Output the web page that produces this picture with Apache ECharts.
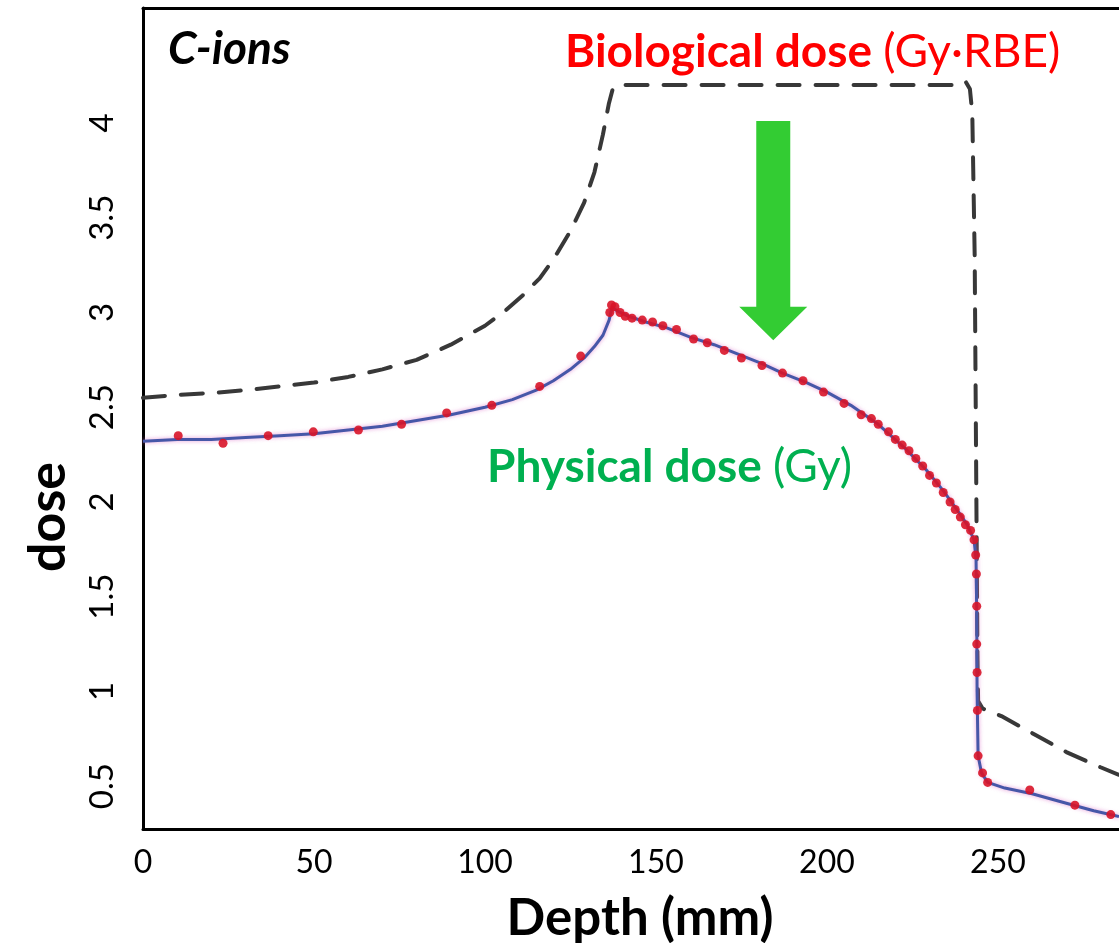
<!DOCTYPE html>
<html>
<head>
<meta charset="utf-8">
<script src="https://cdn.jsdelivr.net/npm/echarts@6/dist/echarts.min.js"></script>
<style>
  html, body { margin: 0; padding: 0; background: #fff; }
  #chart { width: 1119px; height: 943px; }
</style>
</head>
<body>
<div id="chart"></div>
<script>
// Depth–dose profile of a carbon-ion spread-out Bragg peak.

const xTicks = [0, 50, 100, 150, 200, 250];
const yTicks = [0.5, 1, 1.5, 2, 2.5, 3, 3.5, 4];

// Physical dose (Gy), calculated profile: [depth mm, dose]
const physicalCurve = [
  [0, 2.32], [10, 2.33], [20, 2.33], [30, 2.34], [40, 2.35], [50, 2.36],
  [60, 2.38], [70, 2.40], [80, 2.43], [90, 2.46], [100, 2.50], [108, 2.54],
  [115, 2.59], [120, 2.64], [125, 2.70], [129, 2.76], [132, 2.82], [134.5, 2.88],
  [136.3, 2.96], [137.2, 3.03], [138.5, 3.01], [142, 2.98], [147, 2.95],
  [153, 2.92], [160, 2.87], [167, 2.83], [174, 2.78], [181, 2.73], [187, 2.68],
  [194, 2.63], [200, 2.58], [207, 2.51], [215, 2.41], [223, 2.28], [229, 2.17],
  [234, 2.06], [238, 1.96], [241, 1.88], [243, 1.80], [243.6, 1.70], [243.8, 1.40],
  [243.9, 1.00], [244.2, 0.66], [245.2, 0.57], [247, 0.52], [252, 0.49],
  [260, 0.46], [270, 0.41], [278, 0.37], [285.4, 0.34]
];

// Physical dose (Gy), measured points
const physicalMeasured = [
  [10.3, 2.35], [23.4, 2.31], [36.6, 2.35], [49.8, 2.37], [63, 2.38], [75.6, 2.41],
  [88.8, 2.47], [102, 2.51], [116, 2.61], [128, 2.77],
  [136.5, 3.0], [137, 3.04], [138, 3.03], [139.5, 3.0], [141, 2.98], [143, 2.97],
  [146, 2.96], [149, 2.95], [152, 2.93], [156, 2.91], [161, 2.86], [165, 2.84],
  [170, 2.80], [175, 2.76], [181, 2.72], [187, 2.68], [193, 2.64], [199, 2.58],
  [205, 2.52], [210, 2.46], [213, 2.44], [215, 2.41], [218, 2.37], [220, 2.33],
  [222, 2.30], [224, 2.27], [226, 2.23], [228, 2.19], [230, 2.14], [232, 2.10],
  [234, 2.05], [236, 2.00], [237.5, 1.96], [239, 1.92], [240.5, 1.88], [242, 1.85],
  [243, 1.80], [243.5, 1.72], [243.7, 1.62], [243.8, 1.45], [243.8, 1.25],
  [243.9, 1.10], [244, 0.90], [244.2, 0.66], [245.5, 0.57], [247, 0.52],
  [259.3, 0.48], [272.5, 0.40], [283, 0.35]
];

// Biological dose (Gy·RBE)
const biologicalCurve = [
  [0, 2.55], [10, 2.565], [20, 2.575], [30, 2.59], [40, 2.61], [50, 2.63],
  [60, 2.66], [70, 2.70], [80, 2.75], [90, 2.83], [100, 2.93], [106, 3.01],
  [111, 3.09], [116, 3.18], [120, 3.28], [125, 3.43], [129, 3.58], [132, 3.74],
  [134.5, 3.94], [136.2, 4.10], [137.5, 4.19], [139, 4.20], [160, 4.20],
  [200, 4.20], [238, 4.20], [240.5, 4.22], [241.8, 4.18], [242.5, 4.05],
  [243.2, 3.3], [243.7, 2.0], [244, 1.2], [244.2, 0.95], [245.5, 0.91],
  [251, 0.87], [261, 0.77], [270, 0.68], [280, 0.60], [285.4, 0.56]
];

const FONT = 'Lato, "Open Sans", sans-serif';
const X_MAX = 285.4;
const Y_MIN = 0.274;
const Y_MAX = 4.607;

const chart = echarts.init(document.getElementById('chart'), null, { renderer: 'canvas' });

const textElements = [
  {
    type: 'text', id: 'species', x: 168, y: 49,
    style: { text: 'C-ions', font: 'italic bold 46px ' + FONT, fill: '#000', align: 'left', verticalAlign: 'middle' }
  },
  {
    type: 'text', id: 'bioLabel', x: 565, y: 52,
    style: {
      text: '{b|Biological dose }{n|(Gy·RBE)}',
      align: 'left', verticalAlign: 'middle',
      rich: {
        b: { font: 'bold 46px ' + FONT, fill: '#ff0000' },
        n: { font: '46px ' + FONT, fill: '#ff0000' }
      }
    }
  },
  {
    type: 'text', id: 'physLabel', x: 487, y: 467,
    style: {
      text: '{b|Physical dose }{n|(Gy)}',
      align: 'left', verticalAlign: 'middle',
      rich: {
        b: { font: 'bold 46px ' + FONT, fill: '#00b050' },
        n: { font: '46px ' + FONT, fill: '#00b050' }
      }
    }
  },
  {
    type: 'text', id: 'yName', x: 48, y: 517, rotation: Math.PI / 2,
    style: { text: 'dose', font: 'bold 52px ' + FONT, fill: '#000', align: 'center', verticalAlign: 'middle' }
  }
];

chart.setOption({
  animation: false,
  backgroundColor: '#fff',
  grid: { left: 143, right: 0, top: 8, bottom: 114, containLabel: false, outerBoundsMode: 'none' },
  xAxis: [
    {
      type: 'value', min: 0, max: X_MAX, position: 'bottom',
      axisLine: { show: true, lineStyle: { color: '#000', width: 3 } },
      axisTick: { show: false },
      splitLine: { show: false },
      axisLabel: { customValues: xTicks, fontSize: 32, color: '#000', margin: 18, fontFamily: FONT },
      name: 'Depth (mm)', nameLocation: 'middle', nameGap: 64,
      nameTextStyle: { fontSize: 51, fontWeight: 'bold', color: '#000', fontFamily: FONT, padding: [0, 0, 0, 18] }
    },
    {
      type: 'value', min: 0, max: X_MAX, position: 'top',
      axisLine: { show: true, lineStyle: { color: '#000', width: 3 } },
      axisTick: { show: false }, axisLabel: { show: false }, splitLine: { show: false }
    }
  ],
  yAxis: {
    type: 'value', min: Y_MIN, max: Y_MAX,
    axisLine: { show: true, lineStyle: { color: '#000', width: 3 } },
    axisTick: { show: false },
    splitLine: { show: false },
    axisLabel: {
      customValues: yTicks, rotate: 90, fontSize: 33, color: '#000', margin: 24,
      fontFamily: FONT, align: 'center', verticalAlign: 'bottom'
    }
  },
  series: [
    {
      name: 'Biological dose', type: 'line', data: biologicalCurve,
      showSymbol: false, smooth: false, z: 2,
      lineStyle: { color: '#383838', width: 4, type: [22, 16], cap: 'round' }
    },
    {
      name: 'Physical dose', type: 'line', data: physicalCurve,
      showSymbol: false, smooth: false, z: 3,
      lineStyle: { color: '#4657a8', width: 3, shadowBlur: 4, shadowColor: 'rgba(220,110,200,0.7)' }
    },
    {
      name: 'Physical dose (measured)', type: 'scatter', data: physicalMeasured,
      symbolSize: 9, z: 4,
      itemStyle: { color: '#d81428', opacity: 0.9 }
    }
  ],
  graphic: { elements: textElements }
});

// Green arrow from the biological plateau down to the physical dose
const arrowDepth = 184.3, arrowTop = 4.01, arrowBase = 3.03, arrowTip = 2.853;
const pTop = chart.convertToPixel({ gridIndex: 0 }, [arrowDepth, arrowTop]);
const pBase = chart.convertToPixel({ gridIndex: 0 }, [arrowDepth, arrowBase]);
const pTip = chart.convertToPixel({ gridIndex: 0 }, [arrowDepth, arrowTip]);
const cx = pTop[0], shaftHalf = 17, headHalf = 34;

chart.setOption({
  graphic: {
    elements: textElements.concat([{
      type: 'polygon', id: 'arrow', z: 10,
      shape: {
        points: [
          [cx - shaftHalf, pTop[1]], [cx - shaftHalf, pBase[1]], [cx - headHalf, pBase[1]],
          [cx, pTip[1]], [cx + headHalf, pBase[1]], [cx + shaftHalf, pBase[1]],
          [cx + shaftHalf, pTop[1]]
        ]
      },
      style: { fill: '#33cc33' }
    }])
  }
});
</script>
</body>
</html>
